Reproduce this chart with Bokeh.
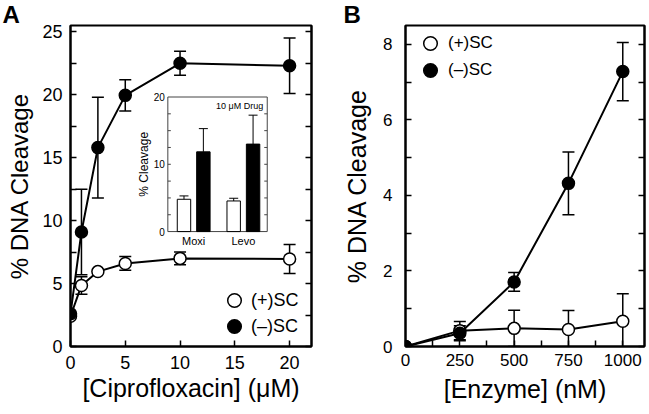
import math
from bokeh.plotting import figure
from bokeh.models import (Range1d, LinearAxis, FixedTicker, ColumnDataSource, Whisker, TeeHead,
                          Legend, LegendItem, CustomJSTickFormatter)
from bokeh.layouts import row
from bokeh.embed import file_html
from bokeh.resources import INLINE
from bokeh.core.properties import value

FONT = "Liberation Sans"

# ---------------- Panel A data ----------------
cipro_x = [0, 1, 2.5, 5, 10, 20]
a_pos_y = [2.4, 4.85, 5.95, 6.6, 7.0, 6.95]
a_pos_err = [0, 0.7, 0, 0.55, 0.5, 1.15]
a_neg_y = [2.6, 9.1, 15.8, 19.95, 22.5, 22.3]
a_neg_err = [0, 3.4, 4.0, 1.25, 0.95, 2.2]
a_xticks = [0, 5, 10, 15, 20]
a_yticks = [0, 5, 10, 15, 20, 25]
a_yminor = [2.5, 7.5, 12.5, 17.5, 22.5]

# ---------------- Inset data ----------------
inset_drugs = ["Moxi", "Levo"]
inset_pos = [4.8, 4.55]
inset_pos_err = [0.5, 0.4]
inset_neg = [11.85, 13.0]
inset_neg_err = [3.45, 4.3]
inset_yticks = [0, 10, 20]
inset_tickmarks = [2.5, 5, 7.5, 10, 12.5, 15, 17.5]

# ---------------- Panel B data ----------------
enz_x = [0, 250, 500, 750, 1000]
b_pos_y = [0, 0.42, 0.48, 0.45, 0.67]
b_pos_err = [0, 0.24, 0.48, 0.5, 0.73]
b_neg_y = [0, 0.35, 1.71, 4.32, 7.28]
b_neg_err = [0, 0.2, 0.25, 0.83, 0.77]
b_xticks = [0, 250, 500, 750, 1000]
b_xminor = [125, 375, 625, 875]
b_yticks = [0, 2, 4, 6, 8]
b_yminor = [1, 3, 5, 7]

LEG_POS = "(+)SC"
LEG_NEG = "(\u2013)SC"


def style_axis(ax, ticks, minor, tick_size, label_size, show_labels=True):
    ax.ticker = FixedTicker(ticks=ticks, minor_ticks=minor)
    ax.axis_line_color = "black"
    ax.axis_line_width = 2
    ax.major_tick_line_color = "black"
    ax.major_tick_line_width = 1.5
    ax.minor_tick_line_color = "black"
    ax.minor_tick_line_width = 1.5
    ax.major_tick_in = 6
    ax.major_tick_out = 0
    ax.minor_tick_in = 6
    ax.minor_tick_out = 0
    ax.major_label_text_font = FONT
    ax.major_label_text_font_size = tick_size
    ax.major_label_text_color = "black"
    ax.axis_label_text_font = FONT
    ax.axis_label_text_font_size = label_size
    ax.axis_label_text_font_style = "normal"
    ax.axis_label_text_color = "black"
    if not show_labels:
        ax.formatter = CustomJSTickFormatter(code="return ''")
        ax.major_label_standoff = 0


def make_fig(width, height, xr, yr, bl, br, bt, bb, letter, letter_offset):
    p = figure(width=width, height=height, x_range=xr, y_range=yr,
               output_backend="svg", toolbar_location=None,
               min_border_left=bl, min_border_right=br, min_border_top=bt, min_border_bottom=bb)
    p.xgrid.visible = False
    p.ygrid.visible = False
    p.outline_line_color = "black"
    p.outline_line_width = 2
    p.background_fill_color = "white"
    p.border_fill_color = "white"
    p.title.text = letter
    p.title.align = "left"
    p.title.offset = letter_offset
    p.title.standoff = -5
    p.title.vertical_align = "bottom"
    p.title.text_font = FONT
    p.title.text_font_size = "24px"
    p.title.text_font_style = "bold"
    p.title.text_color = "black"
    return p


def add_series(p, xs, ys, errs, fill, size):
    src = ColumnDataSource(dict(x=xs, y=ys))
    ex = [x for x, e in zip(xs, errs) if e > 0]
    lo = [y - e for y, e in zip(ys, errs) if e > 0]
    hi = [y + e for y, e in zip(ys, errs) if e > 0]
    w = Whisker(source=ColumnDataSource(dict(x=ex, lo=lo, hi=hi)), base="x", lower="lo", upper="hi",
                line_color="black", line_width=1.5,
                upper_head=TeeHead(size=12, line_width=1.5, line_color="black"),
                lower_head=TeeHead(size=12, line_width=1.5, line_color="black"))
    p.add_layout(w)
    p.line("x", "y", source=src, line_color="black", line_width=2)
    r = p.scatter("x", "y", source=src, size=size, fill_color=fill, line_color="black", line_width=1.5)
    return r


def add_legend_entry(p, label, rend, loc, standoff, font_size):
    p.add_layout(Legend(items=[LegendItem(label=label, renderers=[rend])],
                        location=loc, orientation="vertical", background_fill_alpha=0,
                        border_line_color=None, padding=0, margin=0, spacing=0,
                        glyph_width=34, glyph_height=34, label_height=34, label_standoff=standoff,
                        label_text_font=FONT, label_text_font_size=font_size,
                        label_text_color="black"))


H = 413

# ================= Panel A =================
pA = make_fig(340, H, Range1d(0, 22), Range1d(0, 25.5), 70, 29, 25, H - 347, "A", -68)
style_axis(pA.xaxis[0], a_xticks, [], "18px", "25px")
style_axis(pA.yaxis[0], a_yticks, a_yminor, "18px", "24px")
pA.xaxis[0].axis_label = "[Ciprofloxacin] (\u03bcM)"
pA.yaxis[0].axis_label = "% DNA Cleavage"
pA.xaxis[0].major_label_standoff = 9
pA.yaxis[0].major_label_standoff = 8
pA.xaxis[0].axis_label_standoff = 2
pA.yaxis[0].axis_label_standoff = 6
rA = LinearAxis()
style_axis(rA, a_yticks, a_yminor, "18px", "24px", show_labels=False)
pA.add_layout(rA, "right")

rA_pos = add_series(pA, cipro_x, a_pos_y, a_pos_err, "white", 12)
rA_neg = add_series(pA, cipro_x, a_neg_y, a_neg_err, "black", 12)
add_legend_entry(pA, LEG_POS, rA_pos, (147, 29), 0, "18px")
add_legend_entry(pA, LEG_NEG, rA_neg, (147, 3), 0, "18px")

# ---- inset inside panel A ----
ins_x = Range1d(-0.02, 1.98)
ins_y = Range1d(0, 20)
ins = pA.subplot(x_source=ins_x, y_source=ins_y,
                 x_target=Range1d(8.885, 17.96), y_target=Range1d(9.13, 19.82))
L, R = ins_x.start, ins_x.end
ins.quad(left=[L], right=[R], bottom=[0], top=[20], fill_color="white",
         line_color="#444444", line_width=1)
grp = [i + 0.5 for i in range(len(inset_drugs))]
off = 0.195
bw = 0.27
xo = [g - off for g in grp]
xf = [g + off for g in grp]
tl = 0.06
ticks_all = inset_tickmarks
ins.segment(x0=[L] * len(ticks_all), y0=ticks_all, x1=[L + tl] * len(ticks_all), y1=ticks_all,
            line_color="#444444", line_width=1)
ins.segment(x0=[R] * len(ticks_all), y0=ticks_all, x1=[R - tl] * len(ticks_all), y1=ticks_all,
            line_color="#444444", line_width=1)
# error bars
pos_lo = [v - e for v, e in zip(inset_pos, inset_pos_err)]
pos_hi = [v + e for v, e in zip(inset_pos, inset_pos_err)]
neg_hi = [v + e for v, e in zip(inset_neg, inset_neg_err)]
ins.segment(x0=xo, y0=pos_lo, x1=xo, y1=pos_hi, line_color="black", line_width=1)
ins.scatter(xo + xo, pos_lo + pos_hi, marker="dash", size=9, line_color="black", line_width=1)
ins.segment(x0=xf, y0=inset_neg, x1=xf, y1=neg_hi, line_color="black", line_width=1)
ins.scatter(xf, neg_hi, marker="dash", size=9, line_color="black", line_width=1)
ins.vbar(x=xo, top=inset_pos, bottom=0, width=bw, fill_color="white", line_color="black", line_width=1)
ins.vbar(x=xf, top=inset_neg, bottom=0, width=bw, fill_color="black", line_color="black", line_width=1)
ins.text(x=[L] * len(inset_yticks), y=inset_yticks, text=[str(t) for t in inset_yticks],
         x_offset=-3, text_align="right", text_baseline="middle",
         text_font=value(FONT), text_font_size="10px", text_color="black")
ins.text(x=grp, y=[0] * len(grp), text=inset_drugs, y_offset=3, text_align="center",
         text_baseline="top", text_font=value(FONT), text_font_size="11px", text_color="black")
ins.text(x=[L], y=[10], text=["% Cleavage"], angle=math.pi / 2, x_offset=-17,
         text_align="center", text_baseline="bottom",
         text_font=value(FONT), text_font_size="12px", text_color="black")
ins.text(x=[R], y=[20], text=["10 \u03bcM Drug"], x_offset=-4, y_offset=4,
         text_align="right", text_baseline="top",
         text_font=value(FONT), text_font_size="9px", text_color="black")

# ================= Panel B =================
pB = make_fig(308, H, Range1d(0, 1100), Range1d(0, 8.5), 63, 4, 24, H - 346, "B", -62)
style_axis(pB.xaxis[0], b_xticks, b_xminor, "17px", "25px")
style_axis(pB.yaxis[0], b_yticks, b_yminor, "17px", "25px")
pB.xaxis[0].axis_label = "[Enzyme] (nM)"
pB.yaxis[0].axis_label = "% DNA Cleavage"
pB.xaxis[0].major_label_standoff = 7
pB.yaxis[0].major_label_standoff = 13
pB.xaxis[0].axis_label_standoff = 6
pB.yaxis[0].axis_label_standoff = 9
rB = LinearAxis()
style_axis(rB, b_yticks, b_yminor, "17px", "25px", show_labels=False)
pB.add_layout(rB, "right")

rB_pos = add_series(pB, enz_x, b_pos_y, b_pos_err, "white", 12)
rB_neg = add_series(pB, enz_x, b_neg_y, b_neg_err, "black", 12)
add_legend_entry(pB, LEG_POS, rB_pos, (8, 286), 1, "17px")
add_legend_entry(pB, LEG_NEG, rB_neg, (8, 259), 1, "17px")

layout = row(pA, pB)
open("out.html", "w").write(file_html(layout, INLINE))
